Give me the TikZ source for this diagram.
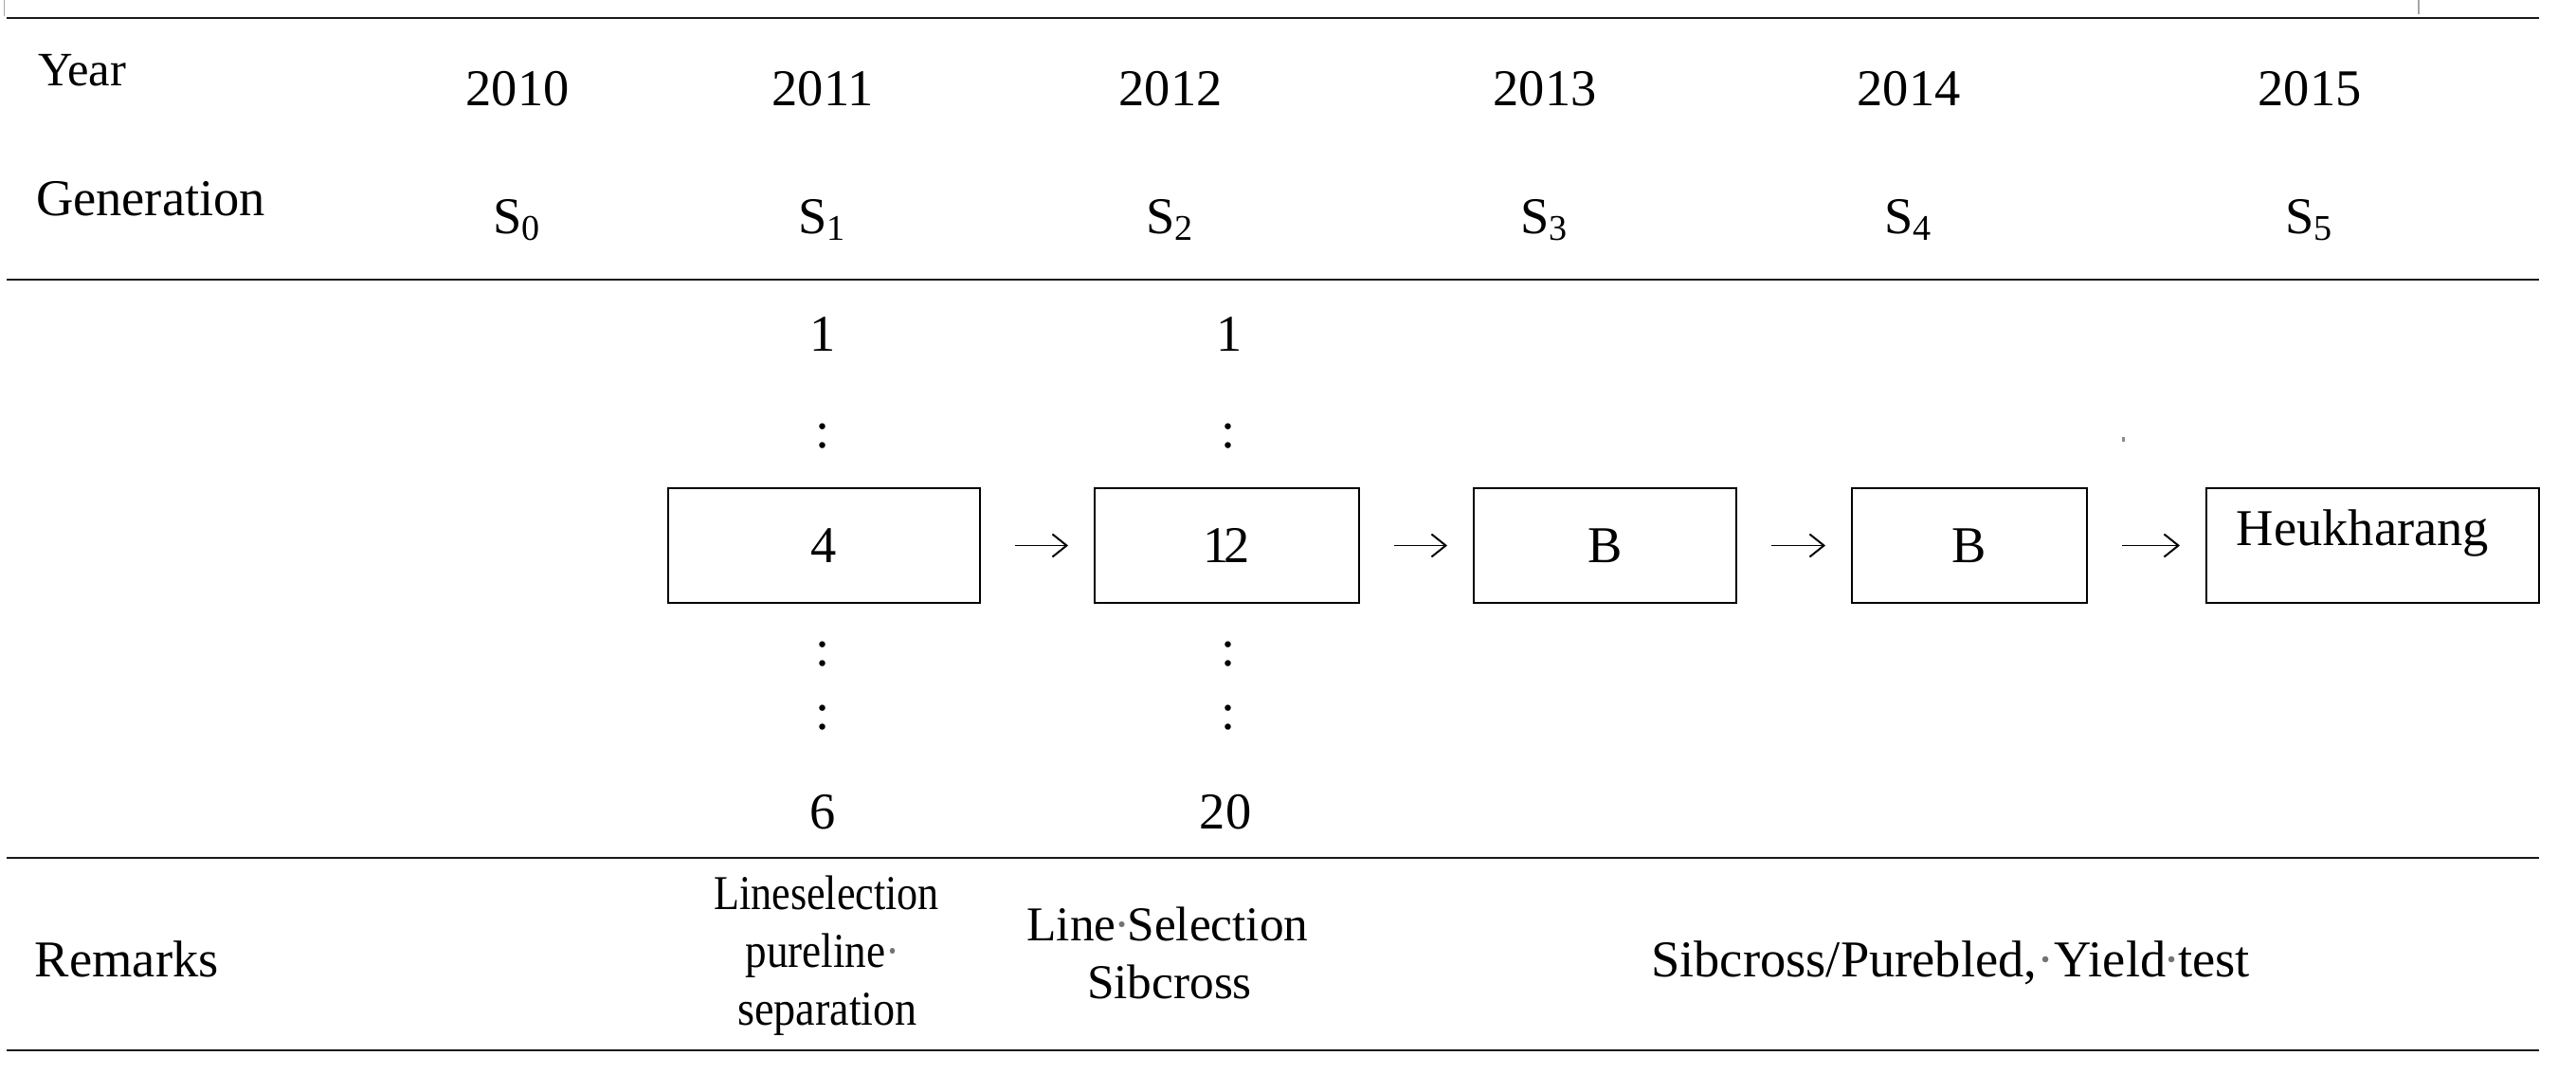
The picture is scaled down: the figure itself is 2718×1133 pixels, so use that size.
\documentclass[tikz,border=0pt]{standalone}
\usepackage{fontspec}
\setmainfont{Liberation Serif}
\usetikzlibrary{arrows.meta}
\newcommand\mysz{\fontsize{15.5}{18}\selectfont}
\newcommand\yrsz{\fontsize{14.4}{17}\selectfont}
\newcommand\rmsz{\fontsize{14.6}{17}\selectfont}
\tikzset{
  txt/.style={inner sep=0pt, outer sep=0pt, anchor=base, font=\mysz},
  lbl/.style={inner sep=0pt, outer sep=0pt, anchor=base west, font=\mysz},
  rule/.style={line width=0.72pt, draw=black!90},
  ghost/.style={line width=0.4pt, draw=black!35},
  stepbox/.style={draw, line width=0.5pt, inner sep=0pt, outer sep=0pt, font=\mysz},
  arr/.style={line width=0.55pt, -{Straight Barb[length=1.5mm,width=2.4mm]}, shorten <=3.7mm, shorten >=2.8mm}
}
\begin{document}
\begin{tikzpicture}[x=0.1mm,y=-0.1mm]
\useasboundingbox (0,0) rectangle (2718,1133);
% table rules
\draw[ghost] (4.5,0) -- (4.5,17);
\draw[ghost] (2552,0) -- (2552,15);
\draw[rule] (7,19) -- (2679,19);
\draw[rule] (7,295) -- (2679,295);
\draw[rule] (7,905) -- (2679,905);
\draw[rule] (7,1108) -- (2679,1108);
% header
\node[lbl, font=\yrsz] (year) at (40,90) {Year};
\node[lbl] (gen) at (38,227) {Generation};
\node[txt] (y0) at (546,111) {2010};
\node[txt] (y1) at (868,111) {2011};
\node[txt] (y2) at (1235,111) {2012};
\node[txt] (y3) at (1630,111) {2013};
\node[txt] (y4) at (2014,111) {2014};
\node[txt] (y5) at (2437,111) {2015};
\node[txt] (g0) at (546,246) {S\textsubscript{0}};
\node[txt] (g1) at (868,246) {S\textsubscript{1}};
\node[txt] (g2) at (1235,246) {S\textsubscript{2}};
\node[txt] (g3) at (1630,246) {S\textsubscript{3}};
\node[txt] (g4) at (2014,246) {S\textsubscript{4}};
\node[txt] (g5) at (2437,246) {S\textsubscript{5}};
% column 2011
\node[txt] (a1) at (868,370) {1};
\node[txt] (ac1) at (868,472) {:};
\node[txt] (ac2) at (868,702) {:};
\node[txt] (ac3) at (868,769) {:};
\node[txt] (a6) at (868,874) {6};
% column 2012
\node[txt] (b1) at (1297,370) {1};
\node[txt] (bc1) at (1296,472) {:};
\node[txt] (bc2) at (1296,702) {:};
\node[txt] (bc3) at (1296,769) {:};
\node[txt] (b20) at (1293,874) {20};
% stray mark
\fill[black!45] (2239,461) rectangle (2242,466);
% boxes
\node[stepbox, minimum width=32.9mm, minimum height=12.1mm] (box1) at (869.5,575.5) {4};
\node[stepbox, minimum width=27.9mm, minimum height=12.1mm] (box2) at (1294.5,575.5) {1\kern-0.1em2};
\node[stepbox, minimum width=27.7mm, minimum height=12.1mm] (box3) at (1693.5,575.5) {B};
\node[stepbox, minimum width=24.8mm, minimum height=12.1mm] (box4) at (2078,575.5) {B};
\node[stepbox, minimum width=35.1mm, minimum height=12.1mm] (box5) at (2503.5,575.5) {};
\node[txt] (hk) at (2493,575) {Heukharang};
% arrows
\draw[arr] (box1) -- (box2);
\draw[arr] (box2) -- (box3);
\draw[arr] (box3) -- (box4);
\draw[arr] (box4) -- (box5);
% remarks
\node[lbl] (rem) at (37,1030) {Remarks};
\node[txt, font=\rmsz] (r1a) at (872,959) {\scalebox{0.86}[1]{Lineselection}};
\node[txt, font=\rmsz] (r1b) at (868,1020) {\scalebox{0.88}[1]{pureline\textcolor{black!55}{·}}};
\node[txt, font=\rmsz] (r1c) at (873,1081) {\scalebox{0.9}[1]{separation}};
\node[txt, font=\rmsz] (r2a) at (1232,992) {Line\kern-0.05em\textcolor{black!55}{·}\kern-0.05em Selection};
\node[txt, font=\rmsz] (r2b) at (1234,1053) {Sibcross};
\node[txt] (r3) at (2058,1030) {Sibcross/Purebled,\textcolor{black!55}{·}Yield\kern-0.05em\textcolor{black!55}{·}\kern-0.05em test};
\end{tikzpicture}
\end{document}
